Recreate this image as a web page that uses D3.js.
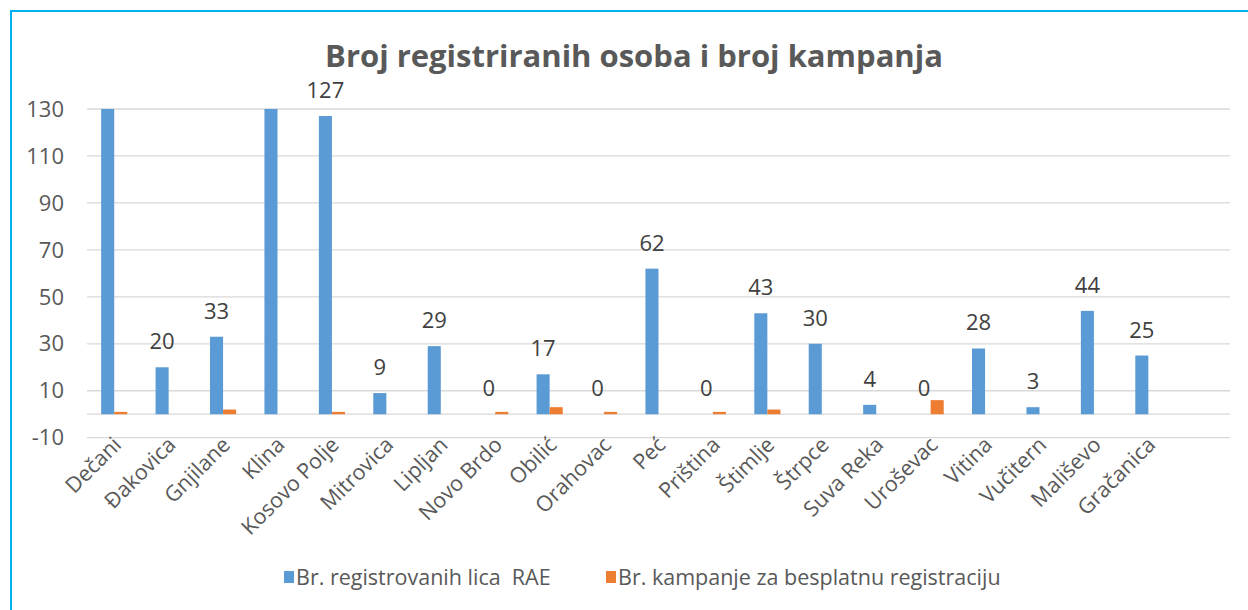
<!DOCTYPE html>
<html>
<head>
<meta charset="utf-8">
<script src="https://cdn.jsdelivr.net/npm/d3@7"></script>
<style>
  body { margin: 0; background: #fff; }
  text { font-family: "Open Sans", sans-serif; fill: #595959; }
  .grid line { stroke: #d9d9d9; stroke-width: 1.3; }
  .label { fill: #404040; }
</style>
</head>
<body>
<svg id="vis" width="1248" height="610"></svg>
<script>
// chart values
const categories = ["Dečani", "Đakovica", "Gnjilane", "Klina", "Kosovo Polje", "Mitrovica",
  "Lipljan", "Novo Brdo", "Obilić", "Orahovac", "Peć", "Priština", "Štimlje", "Štrpce",
  "Suva Reka", "Uroševac", "Vitina", "Vučitern", "Mališevo", "Gračanica"];
// Dečani and Klina run off the top of the axis, real values not visible
const registered = [180, 20, 33, 150, 127, 9, 29, 0, 17, 0, 62, 0, 43, 30, 4, 0, 28, 3, 44, 25];
const campaigns = [1, 0, 2, 0, 1, 0, 0, 1, 3, 1, 0, 1, 2, 0, 0, 6, 0, 0, 0, 0];
const yTicks = [-10, 10, 30, 50, 70, 90, 110, 130];
const seriesNames = ["Br. registrovanih lica  RAE", "Br. kampanje za besplatnu registraciju"];
const colors = ["#5b9bd5", "#ed7d31"];

function drawChart() {
  const svg = d3.select("svg#vis");

  const plot = { left: 87, right: 1230, top: 109, bottom: 437.7 };

  // outer frame (light blue, runs off the picture on right and bottom)
  svg.append("rect")
    .attr("x", 11).attr("y", 11)
    .attr("width", 1260).attr("height", 640)
    .attr("fill", "none")
    .attr("stroke", "#00b0f0")
    .attr("stroke-width", 2);

  svg.append("text")
    .attr("x", 634).attr("y", 67)
    .attr("text-anchor", "middle")
    .style("font-size", "31px")
    .style("font-weight", "bold")
    .text("Broj registriranih osoba i broj kampanja");

  // one empty slot at the end, like the original
  const x = d3.scaleBand()
    .domain(d3.range(categories.length + 1))
    .range([plot.left, plot.right]);

  const groupWidth = x.bandwidth() * 0.48;
  const x1 = d3.scaleBand()
    .domain([0, 1])
    .range([0, groupWidth]);

  const y = d3.scaleLinear()
    .domain([-10, 130])
    .range([plot.bottom, plot.top]);

  const g = {
    grid: svg.append("g").attr("class", "grid"),
    bars: svg.append("g"),
    labels: svg.append("g"),
    axis: svg.append("g"),
    legend: svg.append("g")
  };

  // gridlines
  g.grid.selectAll("line.tick")
    .data(yTicks)
    .enter()
    .append("line")
    .attr("x1", plot.left).attr("x2", plot.right)
    .attr("y1", d => y(d)).attr("y2", d => y(d));

  // zero line
  g.grid.append("line")
    .attr("x1", plot.left).attr("x2", plot.right)
    .attr("y1", y(0)).attr("y2", y(0));

  // y tick labels
  g.axis.selectAll("text.ytick")
    .data(yTicks)
    .enter()
    .append("text")
    .attr("class", "ytick")
    .attr("x", 64)
    .attr("y", d => y(d))
    .attr("dy", "0.35em")
    .attr("text-anchor", "end")
    .style("font-size", "22px")
    .text(d => d);

  // clip bars at the top of the axis
  svg.append("clipPath").attr("id", "clip")
    .append("rect")
    .attr("x", plot.left).attr("y", plot.top)
    .attr("width", plot.right - plot.left)
    .attr("height", plot.bottom - plot.top);
  g.bars.attr("clip-path", "url(#clip)");

  const series = [registered, campaigns];
  series.forEach(function(values, s) {
    g.bars.selectAll("rect.s" + s)
      .data(values)
      .enter()
      .append("rect")
      .attr("class", "s" + s)
      .attr("x", (d, i) => x(i) + (x.bandwidth() - groupWidth) / 2 + x1(s))
      .attr("width", x1.bandwidth())
      .attr("y", d => y(Math.max(d, 0)))
      .attr("height", d => Math.abs(y(d) - y(0)))
      .attr("fill", colors[s]);
  });

  // data labels for the first series (hidden when bar is off the scale)
  g.labels.selectAll("text")
    .data(registered.map((v, i) => ({ v: v, i: i })).filter(d => d.v <= 130))
    .enter()
    .append("text")
    .attr("class", "label")
    .attr("x", d => x(d.i) + (x.bandwidth() - groupWidth) / 2 + x1(0) + x1.bandwidth() / 2)
    .attr("y", d => y(d.v) - 18)
    .attr("text-anchor", "middle")
    .style("font-size", "22px")
    .text(d => d.v);

  // category labels, rotated
  g.axis.selectAll("text.cat")
    .data(categories)
    .enter()
    .append("text")
    .attr("class", "cat")
    .attr("text-anchor", "end")
    .attr("transform", (d, i) => translate(x(i) + x.bandwidth() / 2 - 3, plot.bottom - 3) + " rotate(-45)")
    .attr("dy", "0.75em")
    .style("font-size", "21.5px")
    .text(d => d);

  // legend
  const legendX = [284, 606];
  const item = g.legend.selectAll("g.item")
    .data(seriesNames)
    .enter()
    .append("g")
    .attr("transform", (d, i) => translate(legendX[i], 577));
  item.append("rect")
    .attr("x", 0).attr("y", -6)
    .attr("width", 10).attr("height", 12)
    .attr("fill", (d, i) => colors[i]);
  item.append("text")
    .attr("x", 12).attr("dy", "0.35em")
    .style("font-size", "21.5px")
    .style("white-space", "pre")
    .text(d => d);

  function translate(x, y) {
    return "translate(" + String(x) + "," + String(y) + ")";
  }
}

drawChart();
</script>
</body>
</html>
